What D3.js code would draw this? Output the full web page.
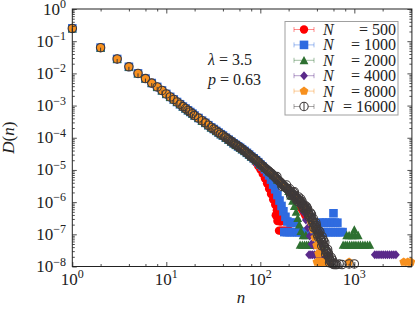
<!DOCTYPE html>
<html>
<head>
<meta charset="utf-8">
<script src="https://cdn.jsdelivr.net/npm/d3@7"></script>
<style>
  body { margin: 0; background: #fff; }
  text { font-family: "Liberation Serif", "DejaVu Serif", serif; fill: #222; }
</style>
</head>
<body>
<div id="chart"></div>
<script>
// shared head of the distribution (all N coincide here)
var nCommon = [1,2,3,4,5,6,7,8,9,10,11,12,13,14,15,16,17,18,19,20,
  22,24,26,28,30,32,34,36,38,40,43,46,49,52,55,58,61,64,68,72,76,80];
var dCommon = [2.5e-1,6.3e-2,2.8e-2,1.6e-2,1.0e-2,6.9e-3,5.0e-3,3.8e-3,2.95e-3,2.3e-3,
  1.86e-3,1.55e-3,1.29e-3,1.1e-3,9.3e-4,8.1e-4,7.1e-4,6.3e-4,5.6e-4,4.9e-4,
  4.1e-4,3.4e-4,2.9e-4,2.45e-4,2.1e-4,1.86e-4,1.63e-4,1.45e-4,1.29e-4,1.17e-4,
  1.0e-4,8.7e-5,7.6e-5,6.7e-5,6.0e-5,5.4e-5,4.9e-5,4.4e-5,3.9e-5,3.4e-5,3.0e-5,2.6e-5];

// tails [n, D(n)] for each system size
var tail500 = [[85,2.1e-5],[90,1.7e-5],[95,1.32e-5],[100,1.05e-5],[106,7.6e-6],[112,5.4e-6],
  [118,3.8e-6],[124,2.6e-6],[130,1.8e-6],[137,1.2e-6],[144,8.3e-7],[150,5.6e-7],[157,3.5e-7],
  [163,2.5e-7],[146,3.9e-7],[160,3.9e-7],[176,3.9e-7],[152,2.6e-7],[170,2.6e-7],[185,2.6e-7],
  [158,1.3e-7],[165,1.3e-7],[172,1.3e-7],[180,1.3e-7],[188,1.3e-7],[196,1.3e-7],[204,1.3e-7],
  [270,6.6e-7],[285,5.2e-7],[300,3.9e-7]];
var tail1000 = [[85,2.3e-5],[90,2.0e-5],[95,1.74e-5],[100,1.48e-5],[106,1.26e-5],[112,1.05e-5],
  [118,8.5e-6],[124,6.8e-6],[130,5.0e-6],[137,3.5e-6],[144,2.5e-6],[152,1.66e-6],[160,1.12e-6],
  [168,7.6e-7],[176,5.2e-7],[185,3.5e-7],[194,2.5e-7],
  [180,1.17e-7],[192,1.17e-7],[205,1.17e-7],[218,1.17e-7],[232,1.17e-7],[247,1.17e-7],
  [262,1.17e-7],[278,1.17e-7],[295,1.17e-7],[313,1.17e-7],[332,1.17e-7],[352,1.17e-7],
  [373,1.17e-7],[395,1.17e-7],[418,1.17e-7],[443,1.17e-7],[470,1.17e-7],[500,1.17e-7],
  [530,1.17e-7],[560,1.17e-7],[595,1.17e-7],[630,1.17e-7],[670,1.17e-7],[710,1.17e-7],[750,1.17e-7],
  [210,2.3e-7],[240,2.3e-7],[430,2.3e-7],[460,2.3e-7],[500,2.3e-7],[540,2.3e-7],[580,2.3e-7],
  [620,2.3e-7],[660,2.3e-7],[600,4.5e-7]];
var tail2000 = [[85,2.3e-5],[90,2.0e-5],[100,1.5e-5],[112,1.15e-5],[124,8.9e-6],[137,6.8e-6],
  [152,5.0e-6],[168,3.8e-6],[185,2.9e-6],[200,2.2e-6],[210,1.6e-6],[220,1.1e-6],[230,7.6e-7],
  [240,5.0e-7],[250,3.2e-7],[260,2.0e-7],[270,1.26e-7],
  [265,4.7e-8],[280,4.7e-8],[295,4.7e-8],[310,4.7e-8],[325,4.7e-8],[345,4.7e-8],[365,4.7e-8],
  [385,4.7e-8],[410,4.7e-8],[435,4.7e-8],[460,4.7e-8],
  [760,4.7e-8],[800,4.7e-8],[840,4.7e-8],[890,4.7e-8],[940,4.7e-8],[990,4.7e-8],[1040,4.7e-8],
  [1100,4.7e-8],[1160,4.7e-8],[1230,4.7e-8],[1300,4.7e-8],[1380,4.7e-8],[1460,4.7e-8],
  [285,9.4e-8],[305,9.4e-8],[830,9.4e-8],[880,9.4e-8],[950,9.4e-8],[1020,9.4e-8],[1100,9.4e-8],
  [1000,1.4e-7]];
var tail4000 = [[85,2.3e-5],[100,1.5e-5],[118,1.0e-5],[137,6.8e-6],[160,4.4e-6],[185,2.9e-6],
  [214,1.95e-6],[236,1.48e-6],[260,1.07e-6],[275,7.6e-7],[290,4.8e-7],[305,2.8e-7],[320,1.6e-7],
  [335,8.9e-8],[350,5.0e-8],
  [330,2.3e-8],[345,2.3e-8],[360,2.3e-8],[378,2.3e-8],[396,2.3e-8],[415,2.3e-8],[435,2.3e-8],
  [455,2.3e-8],[478,2.3e-8],[500,2.3e-8],[522,2.3e-8],
  [1650,2.3e-8],[1740,2.3e-8],[1830,2.3e-8],[1930,2.3e-8],[2030,2.3e-8],[2140,2.3e-8],
  [2250,2.3e-8],[2370,2.3e-8],[2500,2.3e-8],[2630,2.3e-8],[2770,2.3e-8],
  [370,4.6e-8],[400,4.6e-8],[430,4.6e-8]];
var tail8000 = [[85,2.3e-5],[95,1.74e-5],[106,1.32e-5],[118,1.0e-5],[130,7.9e-6],[144,5.9e-6],
  [160,4.4e-6],[176,3.3e-6],[194,2.6e-6],[214,1.95e-6],[236,1.48e-6],[260,1.12e-6],[286,7.9e-7],
  [315,5.4e-7],[330,3.8e-7],[346,2.4e-7],[362,1.4e-7],[380,7.9e-8],[398,4.5e-8],[417,2.5e-8],
  [400,1.38e-8],[420,1.38e-8],[440,1.38e-8],[462,1.38e-8],[485,1.38e-8],[510,1.38e-8],
  [535,1.38e-8],[880,1.38e-8],[3350,1.38e-8],[3700,1.38e-8],[4000,1.38e-8],
  [430,2.76e-8],[460,2.76e-8]];
var tail16000 = [[85,2.3e-5],[90,2.0e-5],[95,1.74e-5],[100,1.5e-5],[106,1.32e-5],[112,1.15e-5],
  [118,1.0e-5],[124,8.9e-6],[130,7.9e-6],[137,6.8e-6],[144,5.9e-6],[152,5.0e-6],[160,4.4e-6],
  [168,3.8e-6],[176,3.3e-6],[185,2.9e-6],[194,2.6e-6],[204,2.2e-6],[214,1.95e-6],[225,1.7e-6],
  [236,1.48e-6],[248,1.29e-6],[260,1.12e-6],[273,9.5e-7],[286,7.9e-7],[300,6.6e-7],[315,5.4e-7],
  [330,4.3e-7],[346,3.3e-7],[362,2.6e-7],[380,1.9e-7],[398,1.4e-7],[417,1.05e-7],[437,7.6e-8],
  [458,5.5e-8],[480,4.0e-8],[503,2.9e-8],[527,2.1e-8],[552,1.6e-8],[578,1.26e-8],[606,1.15e-8],
  [42,1.06e-4],[45,9.3e-5],[48,8.1e-5],[51,7.2e-5],[54,6.3e-5],[57,5.7e-5],[60,5.1e-5],
  [63,4.6e-5],[66,4.1e-5],[70,3.6e-5],[74,3.2e-5],[78,2.8e-5],[83,2.45e-5],[88,2.14e-5],
  [93,1.86e-5],[98,1.62e-5],[103,1.41e-5],[109,1.23e-5],[115,1.07e-5],[121,9.5e-6],[127,8.3e-6],
  [134,7.3e-6],[141,6.3e-6],[148,5.4e-6],[156,4.7e-6],[164,4.1e-6],[172,3.55e-6],[181,3.1e-6],
  [190,2.7e-6],[199,2.4e-6],[209,2.1e-6],[220,1.82e-6],[231,1.58e-6],[242,1.38e-6],[254,1.2e-6],
  [267,1.03e-6],[280,8.7e-7],[293,7.2e-7],[308,6.0e-7],[323,4.8e-7],[338,3.7e-7],[354,2.9e-7],
  [371,2.2e-7],[389,1.65e-7],[408,1.2e-7],[427,8.9e-8],[448,6.5e-8],[469,4.7e-8],[492,3.4e-8],
  [515,2.5e-8],[540,1.86e-8],[565,1.4e-8],[592,1.2e-8],
  [150,6.2e-6],[170,3.1e-6],[190,3.4e-6],[210,1.6e-6],[230,2.1e-6],[250,1.05e-6],[270,1.25e-6],
  [290,6.3e-7],[310,7.2e-7],[330,3.4e-7],[350,4.2e-7],[370,1.6e-7],[390,2.3e-7],[410,8.5e-8],
  [430,1.2e-7],[450,4.4e-8],[470,6.6e-8],[495,2.4e-8],[520,3.4e-8],[545,1.3e-8],[570,1.9e-8],
  [600,1.25e-8],[630,1.15e-8],[650,1.15e-8],[690,1.2e-8],[740,1.15e-8],[880,1.2e-8],[1000,1.2e-8],
  [205,2.6e-6],[215,1.7e-6],[225,2.0e-6],[240,1.2e-6],[255,1.45e-6],[262,9.5e-7],[278,1.05e-6],
  [283,7.0e-7],[298,8.0e-7],[303,5.3e-7],[318,6.3e-7],[326,4.0e-7],[342,4.6e-7],[358,2.4e-7],
  [366,3.1e-7],[384,1.5e-7],[395,1.9e-7],[403,1.0e-7],[420,1.3e-7],[440,7.0e-8],[455,8.5e-8],
  [475,4.2e-8],[485,5.5e-8],[510,3.0e-8],[530,2.6e-8],[555,1.5e-8],[585,1.6e-8]];

var sizes = ["500", "1000", "2000", "4000", "8000", "16000"];
var tails = [tail500, tail1000, tail2000, tail4000, tail8000, tail16000];
var colors = ["#ff0000", "#2f6be0", "#2e7031", "#5a2a8a", "#f7901e", "#3f3a3a"];
var shapes = ["circle", "square", "triangle", "diamond", "pentagon", "open"];

var xTickVals = [1, 10, 100, 1000];
var yTickVals = [1, 1e-1, 1e-2, 1e-3, 1e-4, 1e-5, 1e-6, 1e-7, 1e-8];

var W = 415, H = 310;
var pL = 72.3, pR = 411.9, pT = 9, pB = 266.5;

var svg = d3.select("#chart").append("svg")
  .attr("width", W).attr("height", H);

var x = d3.scaleLog().domain([1, 4096]).range([pL, pR]);
var y = d3.scaleLog().domain([1e-8, 1]).range([pB, pT]);

function shapePath(kind) {
  if (kind == "circle" || kind == "open") return d3.symbol(d3.symbolCircle, Math.PI * 4.2 * 4.2)();
  if (kind == "square") return "M-4.3,-4.3h8.6v8.6h-8.6Z";
  if (kind == "triangle") return "M0,-4.4L4.4,4.0L-4.4,4.0Z";
  if (kind == "diamond") return "M0,-4.5L3.9,0L0,4.5L-3.9,0Z";
  var pts = d3.range(5).map(function(i) {
    var a = -Math.PI / 2 + i * 2 * Math.PI / 5;
    return [4.6 * Math.cos(a), 4.6 * Math.sin(a)];
  });
  return "M" + pts.join("L") + "Z";
}

// markers (not clipped, like the original)
var plot = svg.append("g");
sizes.forEach(function(s, i) {
  var pts = nCommon.map(function(n, j) { return [n, dCommon[j]]; }).concat(tails[i]);
  var g = plot.append("g");
  var marks = g.selectAll("g").data(pts).enter().append("g")
    .attr("transform", function(d) { return "translate(" + x(d[0]) + "," + y(d[1]) + ")"; });
  if (shapes[i] == "open") {
    marks.append("path").attr("d", shapePath("open"))
      .attr("fill", "none").attr("stroke", colors[i]).attr("stroke-width", 1.1);
    marks.append("line").attr("x1", 0).attr("x2", 0).attr("y1", 0).attr("y2", 4.2)
      .attr("stroke", colors[i]).attr("stroke-width", 1);
  } else {
    marks.append("path").attr("d", shapePath(shapes[i])).attr("fill", colors[i]);
  }
});

// axes with inward ticks on all sides
var xMinor = [], yMinor = [];
[1, 10, 100, 1000].forEach(function(b) {
  [2, 4, 6, 8].forEach(function(k) { if (b * k <= 4096) xMinor.push(b * k); });
});
yTickVals.slice(1).forEach(function(b) {
  d3.range(2, 10).forEach(function(k) { yMinor.push(b * k); });
});

function addAxis(gen, vals, len, tr) {
  var a = svg.append("g").attr("transform", tr)
    .call(gen.tickValues(vals).tickSize(len).tickFormat(""));
  a.select(".domain").remove();
  a.selectAll("line").attr("stroke", "#222").attr("stroke-width", 0.8);
}
addAxis(d3.axisBottom(x), xTickVals, -4.5, "translate(0," + pB + ")");
addAxis(d3.axisBottom(x), xMinor, -2.5, "translate(0," + pB + ")");
addAxis(d3.axisTop(x), xTickVals, -4.5, "translate(0," + pT + ")");
addAxis(d3.axisTop(x), xMinor, -2.5, "translate(0," + pT + ")");
addAxis(d3.axisLeft(y), yTickVals, -4.5, "translate(" + pL + ",0)");
addAxis(d3.axisLeft(y), yMinor, -2.5, "translate(" + pL + ",0)");
addAxis(d3.axisRight(y), yTickVals, -4.5, "translate(" + pR + ",0)");
addAxis(d3.axisRight(y), yMinor, -2.5, "translate(" + pR + ",0)");

svg.append("rect").attr("x", pL).attr("y", pT)
  .attr("width", pR - pL).attr("height", pB - pT)
  .attr("fill", "none").attr("stroke", "#222").attr("stroke-width", 1);

// tick labels
xTickVals.forEach(function(v) {
  var t = svg.append("text").attr("x", x(v)).attr("y", 285)
    .attr("text-anchor", "middle").style("font-size", "17px");
  t.append("tspan").text("10");
  t.append("tspan").attr("dy", -7).style("font-size", "12px").text(Math.round(Math.log10(v)));
});
yTickVals.forEach(function(v) {
  var e = Math.round(Math.log10(v));
  var t = svg.append("text").attr("x", 66).attr("y", y(v) + 5.5)
    .attr("text-anchor", "end").style("font-size", "17px");
  t.append("tspan").text("10");
  t.append("tspan").attr("dy", -6.5).style("font-size", "12px").text(e == 0 ? "0" : "\u2212" + (-e));
});

// axis titles
svg.append("text").attr("x", 241).attr("y", 303).attr("text-anchor", "middle")
  .style("font-size", "17px").style("font-style", "italic").text("n");
var yl = svg.append("text").attr("transform", "translate(14," + ((pT + pB) / 2) + ") rotate(-90)")
  .attr("text-anchor", "middle").style("font-size", "17px");
yl.append("tspan").style("font-style", "italic").text("D");
yl.append("tspan").text("(");
yl.append("tspan").style("font-style", "italic").text("n");
yl.append("tspan").text(")");

// parameters
var p1 = svg.append("text").attr("x", 208).attr("y", 65).style("font-size", "16px");
p1.append("tspan").style("font-style", "italic").text("\u03bb");
p1.append("tspan").text(" = 3.5");
var p2 = svg.append("text").attr("x", 208).attr("y", 85).style("font-size", "16px");
p2.append("tspan").style("font-style", "italic").text("p");
p2.append("tspan").text(" = 0.63");

// legend
var leg = svg.append("g");
leg.append("rect").attr("x", 285).attr("y", 21.5).attr("width", 113).attr("height", 93.5)
  .attr("fill", "#fff").attr("stroke", "#a0a0a0").attr("stroke-width", 1);
sizes.forEach(function(s, i) {
  var ry = 29.5 + i * 15.4;
  var h = leg.append("g").attr("stroke", colors[i]).attr("stroke-opacity", 0.45).attr("stroke-width", 1);
  h.append("line").attr("x1", 294).attr("x2", 314).attr("y1", ry).attr("y2", ry);
  h.append("line").attr("x1", 294).attr("x2", 294).attr("y1", ry - 2.5).attr("y2", ry + 2.5);
  h.append("line").attr("x1", 314).attr("x2", 314).attr("y1", ry - 2.5).attr("y2", ry + 2.5);
  var m = leg.append("g").attr("transform", "translate(304," + ry + ")");
  if (shapes[i] == "open") {
    m.append("path").attr("d", shapePath("open")).attr("fill", "#fff")
      .attr("stroke", colors[i]).attr("stroke-width", 1.1);
    m.append("line").attr("y1", -4.2).attr("y2", 4.2).attr("stroke", colors[i]);
  } else {
    m.append("path").attr("d", shapePath(shapes[i])).attr("fill", colors[i]);
  }
  leg.append("text").attr("x", 323).attr("y", ry + 5.5).style("font-size", "16px")
    .style("font-style", "italic").text("N");
  leg.append("text").attr("x", 396).attr("y", ry + 5.5).attr("text-anchor", "end")
    .style("font-size", "16px").text("= " + s);
});
</script>
</body>
</html>
